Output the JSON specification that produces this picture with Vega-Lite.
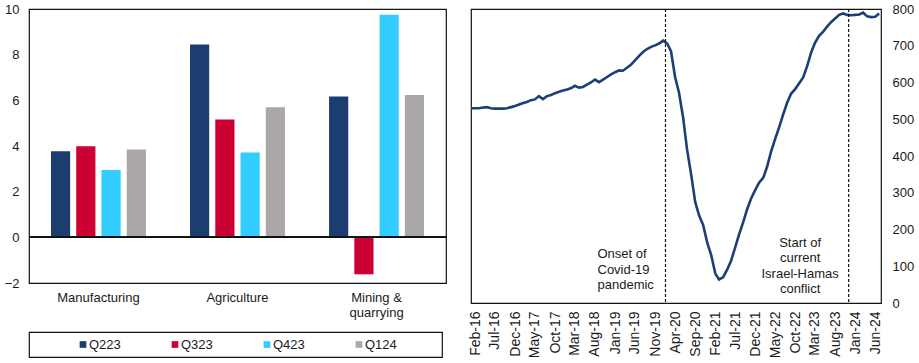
{
  "$schema": "https://vega.github.io/schema/vega-lite/v6.json",
  "background": "white",
  "padding": {"left": 3, "top": 2, "right": 0, "bottom": 0},
  "config": {
    "view": {"stroke": "#111", "strokeWidth": 1.2},
    "font": "Liberation Sans",
    "axis": {"labelFont": "Liberation Sans", "labelColor": "#1a1a1a", "labelFontSize": 13, "grid": false, "ticks": false, "domain": false, "title": null, "labelOverlap": false, "labelSeparation": 0},
    "text": {"font": "Liberation Sans", "color": "#1a1a1a"}
  },
  "datasets": {
    "bars": [
      {"sector": "Manufacturing", "quarter": "Q223", "value": 3.77},
      {"sector": "Manufacturing", "quarter": "Q323", "value": 3.99},
      {"sector": "Manufacturing", "quarter": "Q423", "value": 2.95},
      {"sector": "Manufacturing", "quarter": "Q124", "value": 3.85},
      {"sector": "Agriculture", "quarter": "Q223", "value": 8.45},
      {"sector": "Agriculture", "quarter": "Q323", "value": 5.16},
      {"sector": "Agriculture", "quarter": "Q423", "value": 3.71},
      {"sector": "Agriculture", "quarter": "Q124", "value": 5.70},
      {"sector": "Mining & quarrying", "quarter": "Q223", "value": 6.17},
      {"sector": "Mining & quarrying", "quarter": "Q323", "value": -1.62},
      {"sector": "Mining & quarrying", "quarter": "Q423", "value": 9.75},
      {"sector": "Mining & quarrying", "quarter": "Q124", "value": 6.23}
    ],
    "legend": [
      {"quarter": "Q223"}, {"quarter": "Q323"}, {"quarter": "Q423"}, {"quarter": "Q124"}
    ],
    "series": [
      {"date": "2016-01-01", "v": 530}, {"date": "2016-02-01", "v": 530}, {"date": "2016-03-01", "v": 530},
      {"date": "2016-04-01", "v": 532}, {"date": "2016-05-01", "v": 533}, {"date": "2016-06-01", "v": 530},
      {"date": "2016-07-01", "v": 529}, {"date": "2016-08-01", "v": 529}, {"date": "2016-09-01", "v": 529},
      {"date": "2016-10-01", "v": 530}, {"date": "2016-11-01", "v": 533}, {"date": "2016-12-01", "v": 536},
      {"date": "2017-01-01", "v": 540}, {"date": "2017-02-01", "v": 544}, {"date": "2017-03-01", "v": 547},
      {"date": "2017-04-01", "v": 552}, {"date": "2017-05-01", "v": 554}, {"date": "2017-06-01", "v": 563},
      {"date": "2017-07-01", "v": 555}, {"date": "2017-08-01", "v": 563}, {"date": "2017-09-01", "v": 566},
      {"date": "2017-10-01", "v": 571}, {"date": "2017-11-01", "v": 575}, {"date": "2017-12-01", "v": 578},
      {"date": "2018-01-01", "v": 581}, {"date": "2018-02-01", "v": 585}, {"date": "2018-03-01", "v": 591},
      {"date": "2018-04-01", "v": 586}, {"date": "2018-05-01", "v": 588}, {"date": "2018-06-01", "v": 594},
      {"date": "2018-07-01", "v": 600}, {"date": "2018-08-01", "v": 608}, {"date": "2018-09-01", "v": 601},
      {"date": "2018-10-01", "v": 608}, {"date": "2018-11-01", "v": 615}, {"date": "2018-12-01", "v": 622},
      {"date": "2019-01-01", "v": 628}, {"date": "2019-02-01", "v": 633}, {"date": "2019-03-01", "v": 632},
      {"date": "2019-04-01", "v": 640}, {"date": "2019-05-01", "v": 648}, {"date": "2019-06-01", "v": 660},
      {"date": "2019-07-01", "v": 672}, {"date": "2019-08-01", "v": 683}, {"date": "2019-09-01", "v": 691},
      {"date": "2019-10-01", "v": 697}, {"date": "2019-11-01", "v": 701}, {"date": "2019-12-01", "v": 706},
      {"date": "2020-01-01", "v": 714}, {"date": "2020-02-01", "v": 706}, {"date": "2020-03-01", "v": 685},
      {"date": "2020-04-01", "v": 615}, {"date": "2020-05-01", "v": 572}, {"date": "2020-06-01", "v": 505},
      {"date": "2020-07-01", "v": 418}, {"date": "2020-08-01", "v": 350}, {"date": "2020-09-01", "v": 275},
      {"date": "2020-10-01", "v": 238}, {"date": "2020-11-01", "v": 212}, {"date": "2020-12-01", "v": 165},
      {"date": "2021-01-01", "v": 130}, {"date": "2021-02-01", "v": 80}, {"date": "2021-03-01", "v": 64},
      {"date": "2021-04-01", "v": 70}, {"date": "2021-05-01", "v": 90}, {"date": "2021-06-01", "v": 115},
      {"date": "2021-07-01", "v": 150}, {"date": "2021-08-01", "v": 187}, {"date": "2021-09-01", "v": 220},
      {"date": "2021-10-01", "v": 255}, {"date": "2021-11-01", "v": 285}, {"date": "2021-12-01", "v": 307},
      {"date": "2022-01-01", "v": 328}, {"date": "2022-02-01", "v": 341}, {"date": "2022-03-01", "v": 370},
      {"date": "2022-04-01", "v": 412}, {"date": "2022-05-01", "v": 445}, {"date": "2022-06-01", "v": 478},
      {"date": "2022-07-01", "v": 512}, {"date": "2022-08-01", "v": 545}, {"date": "2022-09-01", "v": 570},
      {"date": "2022-10-01", "v": 582}, {"date": "2022-11-01", "v": 598}, {"date": "2022-12-01", "v": 614},
      {"date": "2023-01-01", "v": 645}, {"date": "2023-02-01", "v": 683}, {"date": "2023-03-01", "v": 708},
      {"date": "2023-04-01", "v": 727}, {"date": "2023-05-01", "v": 738}, {"date": "2023-06-01", "v": 752},
      {"date": "2023-07-01", "v": 764}, {"date": "2023-08-01", "v": 774}, {"date": "2023-09-01", "v": 784},
      {"date": "2023-10-01", "v": 788}, {"date": "2023-11-01", "v": 784}, {"date": "2023-12-01", "v": 783},
      {"date": "2024-01-01", "v": 784}, {"date": "2024-02-01", "v": 785}, {"date": "2024-03-01", "v": 790},
      {"date": "2024-04-01", "v": 780}, {"date": "2024-05-01", "v": 778}, {"date": "2024-06-01", "v": 779},
      {"date": "2024-07-01", "v": 788}
    ],
    "events": [
      {"date": "2020-01-19", "event": "Covid-19"},
      {"date": "2023-11-12", "event": "Israel-Hamas"}
    ],
    "noteCovid": [
      {"date": "2018-08-20", "v": 133, "label": "Onset of\nCovid-19\npandemic"}
    ],
    "noteWar": [
      {"date": "2022-11-08", "v": 164, "label": "Start of\ncurrent\nIsrael-Hamas\nconflict"}
    ]
  },
  "hconcat": [
    {
      "vconcat": [
        {
          "width": 417,
          "height": 274,
          "data": {"name": "bars"},
          "layer": [
            {
              "mark": {"type": "bar"},
              "encoding": {
                "x": {
                  "field": "sector", "type": "nominal",
                  "sort": ["Manufacturing", "Agriculture", "Mining & quarrying"],
                  "scale": {"paddingInner": 0.317, "paddingOuter": 0.158},
                  "axis": {"labelAngle": 0, "labelPadding": 8, "labelLineHeight": 15, "labelBaseline": "top",
                           "labelExpr": "datum.label == 'Mining & quarrying' ? ['Mining &', 'quarrying'] : datum.label"}
                },
                "xOffset": {
                  "field": "quarter", "type": "nominal",
                  "sort": ["Q223", "Q323", "Q423", "Q124"],
                  "scale": {"paddingInner": 0.24, "paddingOuter": 0}
                },
                "y": {
                  "field": "value", "type": "quantitative",
                  "scale": {"domain": [-2, 10], "nice": false},
                  "axis": {"values": [-2, 0, 2, 4, 6, 8, 10], "format": "d", "labelPadding": 10}
                },
                "color": {
                  "field": "quarter", "type": "nominal",
                  "scale": {"domain": ["Q223", "Q323", "Q423", "Q124"], "range": ["#1B3D70", "#CC0033", "#33CCFF", "#ABA7A7"]},
                  "legend": null
                }
              }
            },
            {
              "mark": {"type": "rule", "color": "#111", "strokeWidth": 1.3},
              "encoding": {"y": {"datum": 0}}
            }
          ]
        },
        {
          "width": 413,
          "height": 25,
          "data": {"name": "legend"},
          "layer": [
            {
              "mark": {"type": "square", "size": 45, "opacity": 1},
              "encoding": {
                "x": {"field": "quarter", "type": "nominal", "sort": ["Q223", "Q323", "Q423", "Q124"],
                      "scale": {"type": "point", "padding": 0.745, "align": 0.394}, "axis": null},
                "color": {"field": "quarter", "type": "nominal", "legend": null}
              }
            },
            {
              "mark": {"type": "text", "align": "left", "dx": 6, "baseline": "middle", "fontSize": 13},
              "encoding": {
                "x": {"field": "quarter", "type": "nominal", "sort": ["Q223", "Q323", "Q423", "Q124"], "axis": null},
                "text": {"field": "quarter"}
              }
            }
          ]
        }
      ],
      "spacing": 49,
      "bounds": "flush"
    },
    {
      "width": 410,
      "height": 294,
      "layer": [
        {
          "data": {"name": "series"},
          "mark": {"type": "line", "color": "#1E3F75", "strokeWidth": 2.6},
          "encoding": {
            "x": {
              "field": "date", "type": "temporal",
              "scale": {"type": "utc", "domain": [{"year": 2016, "month": 1, "date": 1, "utc": true}, {"year": 2024, "month": 7, "date": 15, "utc": true}]},
              "axis": {
                "format": "%b-%y", "labelAngle": 270, "labelPadding": 8, "labelFontSize": 14, "labelOverlap": false, "labelFlush": false, "tickCount": 60,
                "values": [
                  {"year": 2016, "month": 2, "date": 1, "utc": true},
                  {"year": 2016, "month": 7, "date": 1, "utc": true},
                  {"year": 2016, "month": 12, "date": 1, "utc": true},
                  {"year": 2017, "month": 5, "date": 1, "utc": true},
                  {"year": 2017, "month": 10, "date": 1, "utc": true},
                  {"year": 2018, "month": 3, "date": 1, "utc": true},
                  {"year": 2018, "month": 8, "date": 1, "utc": true},
                  {"year": 2019, "month": 1, "date": 1, "utc": true},
                  {"year": 2019, "month": 6, "date": 1, "utc": true},
                  {"year": 2019, "month": 11, "date": 1, "utc": true},
                  {"year": 2020, "month": 4, "date": 1, "utc": true},
                  {"year": 2020, "month": 9, "date": 1, "utc": true},
                  {"year": 2021, "month": 2, "date": 1, "utc": true},
                  {"year": 2021, "month": 7, "date": 1, "utc": true},
                  {"year": 2021, "month": 12, "date": 1, "utc": true},
                  {"year": 2022, "month": 5, "date": 1, "utc": true},
                  {"year": 2022, "month": 10, "date": 1, "utc": true},
                  {"year": 2023, "month": 3, "date": 1, "utc": true},
                  {"year": 2023, "month": 8, "date": 1, "utc": true},
                  {"year": 2024, "month": 1, "date": 1, "utc": true},
                  {"year": 2024, "month": 6, "date": 1, "utc": true}
                ]
              }
            },
            "y": {
              "field": "v", "type": "quantitative",
              "scale": {"domain": [0, 800], "nice": false},
              "axis": {"orient": "right", "values": [0, 100, 200, 300, 400, 500, 600, 700, 800], "format": "d", "tickCount": 30, "labelPadding": 11, "labelOverlap": false}
            }
          }
        },
        {
          "data": {"name": "events"},
          "mark": {"type": "rule", "color": "#111", "strokeWidth": 1.2, "strokeDash": [3, 2]},
          "encoding": {"x": {"field": "date", "type": "temporal"}}
        },
        {
          "data": {"name": "noteCovid"},
          "mark": {"type": "text", "lineBreak": "\n", "fontSize": 13, "lineHeight": 15.5, "baseline": "middle", "align": "left"},
          "encoding": {
            "x": {"field": "date", "type": "temporal"},
            "y": {"field": "v", "type": "quantitative"},
            "text": {"field": "label"}
          }
        },
        {
          "data": {"name": "noteWar"},
          "mark": {"type": "text", "lineBreak": "\n", "fontSize": 13, "lineHeight": 15.5, "baseline": "middle", "align": "center"},
          "encoding": {
            "x": {"field": "date", "type": "temporal"},
            "y": {"field": "v", "type": "quantitative"},
            "text": {"field": "label"}
          }
        }
      ]
    }
  ],
  "spacing": 17
}
